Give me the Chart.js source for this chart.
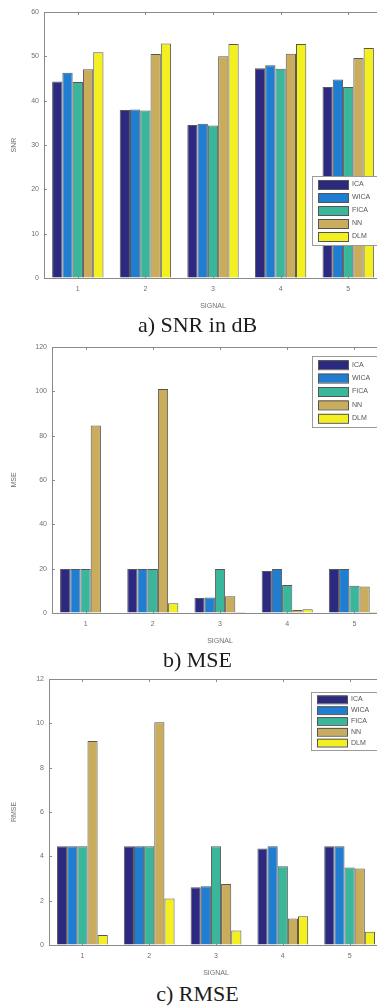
<!DOCTYPE html>
<html>
<head>
<meta charset="utf-8">
<script src="https://cdn.jsdelivr.net/npm/chart.js@4.4.1/dist/chart.umd.min.js"></script>
<style>
  html, body { margin: 0; padding: 0; background: #fff; overflow: hidden; }
  .page { position: relative; width: 377px; height: 1007px; overflow: hidden; }
  .page canvas { position: absolute; left: 0; }
  .cap { position: absolute; left: 0; width: 395px; text-align: center; font-family: 'Liberation Serif', 'DejaVu Serif', serif; font-size: 22px; color: #1c1c1c; line-height: 1; }
</style>
</head>
<body>
<div class="page">
  <canvas id="snr" style="top:0px"></canvas>
  <canvas id="mse" style="top:335px"></canvas>
  <canvas id="rmse" style="top:667px"></canvas>
  <div class="cap" style="top:314px">a) SNR in dB</div>
  <div class="cap" style="top:649px">b) MSE</div>
  <div class="cap" style="top:983px">c) RMSE</div>
</div>
<script>
const signals = ['1', '2', '3', '4', '5'];
const methods = ['ICA', 'WICA', 'FICA', 'NN', 'DLM'];
const methodColors = ['#2c2a80', '#1f7dd2', '#3ab69b', '#c9ad5c', '#f4ef1e'];

const snrICA  = [44.3, 37.9, 34.5, 47.3, 43.1];
const snrWICA = [46.3, 38.0, 34.8, 48.0, 44.8];
const snrFICA = [44.2, 37.8, 34.4, 47.2, 43.1];
const snrNN   = [47.1, 50.5, 50.0, 50.6, 49.6];
const snrDLM  = [50.9, 52.9, 52.8, 52.8, 51.9];

const mseICA  = [19.8, 19.8, 6.8, 18.9, 19.8];
const mseWICA = [19.8, 19.8, 7.0, 19.8, 19.8];
const mseFICA = [19.8, 19.8, 19.8, 12.6, 12.3];
const mseNN   = [84.6, 101, 7.6, 1.4, 11.9];
const mseDLM  = [0.2, 4.4, 0.4, 1.7, 0.4];

const rmseICA  = [4.45, 4.45, 2.6, 4.35, 4.45];
const rmseWICA = [4.45, 4.45, 2.65, 4.45, 4.45];
const rmseFICA = [4.45, 4.45, 4.45, 3.55, 3.5];
const rmseNN   = [9.2, 10.05, 2.75, 1.2, 3.45];
const rmseDLM  = [0.45, 2.1, 0.65, 1.3, 0.6];

const AXIS = '#8a8a8a';
const TICK_TXT = '#6f6f6f';
const SANS = "'Liberation Sans', Arial, sans-serif";

// matlab-ish box: top edge + short inward tick marks
const boxTicks = {
  id: 'boxTicks',
  afterDraw(chart) {
    const { ctx, chartArea: a, scales: { x, y } } = chart;
    ctx.save();
    ctx.strokeStyle = AXIS;
    ctx.lineWidth = 1;
    ctx.beginPath();
    ctx.moveTo(a.left, a.top + 0.5);
    ctx.lineTo(a.right, a.top + 0.5);
    y.ticks.forEach((t, i) => {
      const py = Math.round(y.getPixelForTick(i)) + 0.5;
      ctx.moveTo(a.left, py); ctx.lineTo(a.left + 3, py);
    });
    x.ticks.forEach((t, i) => {
      const px = Math.round(x.getPixelForTick(i)) + 0.5;
      ctx.moveTo(px, a.bottom); ctx.lineTo(px, a.bottom - 3);
      ctx.moveTo(px, a.top); ctx.lineTo(px, a.top + 3);
    });
    ctx.stroke();
    ctx.restore();
  }
};

// legend box drawn inside the plot, like matlab 'Location','east'
const boxLegend = {
  id: 'boxLegend',
  afterDraw(chart, args, opts) {
    const { ctx } = chart;
    const { x, y, w, h } = opts;
    ctx.save();
    ctx.fillStyle = '#fff';
    ctx.fillRect(x, y, w, h);
    ctx.strokeStyle = '#9a9a9a';
    ctx.strokeRect(x + 0.5, y + 0.5, w, h);
    const step = (h - 4) / chart.data.datasets.length;
    ctx.font = '7px ' + SANS;
    ctx.textBaseline = 'middle';
    chart.data.datasets.forEach((ds, i) => {
      const cy = y + 2 + step * (i + 0.5);
      const sh = Math.min(9, step - 3);
      ctx.fillStyle = ds.backgroundColor;
      ctx.fillRect(x + 6, cy - sh / 2, 30, sh);
      ctx.strokeStyle = '#555';
      ctx.strokeRect(x + 6.5, cy - sh / 2 + 0.5, 30, sh);
      ctx.fillStyle = '#555';
      ctx.fillText(ds.label, x + 40, cy);
    });
    ctx.restore();
  }
};

function makeBars(id, series, yMax, yStep, yTitle, yWidth, legendPos, width) {
  const canvas = document.getElementById(id);
  canvas.width = width;
  canvas.height = 313;
  canvas.style.width = width + 'px';
  canvas.style.height = '313px';
  return new Chart(canvas, {
    type: 'bar',
    data: {
      labels: signals,
      datasets: methods.map((m, i) => ({
        label: m,
        data: series[i],
        backgroundColor: methodColors[i],
        borderColor: 'rgba(45,45,45,0.8)',
        borderWidth: 1,
        categoryPercentage: 0.76,
        barPercentage: 1.0,
      })),
    },
    options: {
      responsive: false,
      animation: false,
      layout: { padding: { top: 12, right: 0, left: 0, bottom: 0 } },
      plugins: { legend: { display: false }, tooltip: { enabled: false }, boxLegend: legendPos },
      scales: {
        x: {
          grid: { drawOnChartArea: false, drawTicks: false },
          border: { color: AXIS },
          ticks: { color: TICK_TXT, font: { size: 7, family: SANS }, padding: 7 },
          title: { display: true, text: 'SIGNAL', color: TICK_TXT, font: { size: 7, family: SANS }, padding: { top: 0, bottom: 3 } },
          afterFit: s => { s.height = 35; },
        },
        y: {
          min: 0, max: yMax,
          grid: { drawOnChartArea: false, drawTicks: false },
          border: { color: AXIS },
          ticks: { stepSize: yStep, color: TICK_TXT, font: { size: 7, family: SANS }, padding: 5 },
          title: { display: true, text: yTitle, color: TICK_TXT, font: { size: 7, family: SANS }, padding: { top: 10, bottom: 10 } },
          afterFit: s => { s.width = yWidth; },
        },
      },
    },
    plugins: [boxTicks, boxLegend],
  });
}

makeBars('snr', [snrICA, snrWICA, snrFICA, snrNN, snrDLM], 60, 10, 'SNR', 44,
  { x: 312, y: 176, w: 80, h: 69 }, 382);
makeBars('mse', [mseICA, mseWICA, mseFICA, mseNN, mseDLM], 120, 20, 'MSE', 52,
  { x: 312, y: 21, w: 80, h: 71 }, 388);
makeBars('rmse', [rmseICA, rmseWICA, rmseFICA, rmseNN, rmseDLM], 12, 2, 'RMSE', 49,
  { x: 311, y: 25, w: 80, h: 58 }, 383);
</script>
</body>
</html>
